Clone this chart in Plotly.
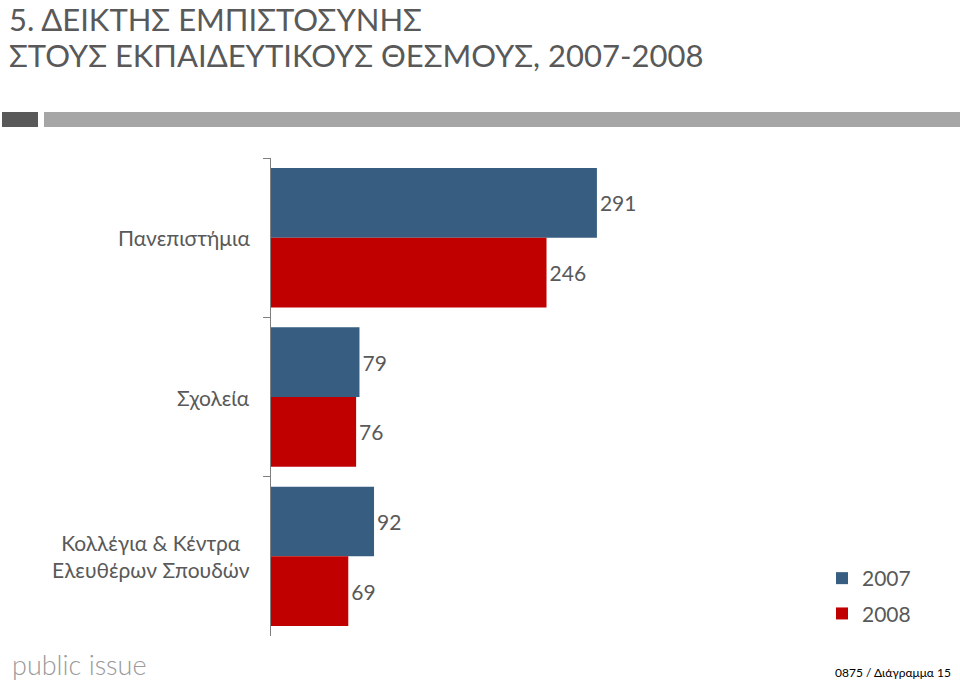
import plotly.graph_objects as go

categories = ["Πανεπιστήμια", "Σχολεία", "Κολλέγια & Κέντρα<br>Ελευθέρων Σπουδών"]
series_names = ["2007", "2008"]
values_2007 = [291, 79, 92]
values_2008 = [246, 76, 69]
colors = ["#375E80", "#C00000"]
title_lines = ["5. ΔΕΙΚΤΗΣ ΕΜΠΙΣΤΟΣΥΝΗΣ", "ΣΤΟΥΣ ΕΚΠΑΙΔΕΥΤΙΚΟΥΣ ΘΕΣΜΟΥΣ, 2007-2008"]

W, H = 960, 682
L, R, T, B = 271, 17, 158, 46
PW, PH = W - L - R, H - T - B

def px(x):
    return (x - L) / PW

def py(y):
    return (H - B - y) / PH

fig = go.Figure()
for name, vals, col in zip(series_names, [values_2007, values_2008], colors):
    fig.add_trace(go.Bar(
        y=categories, x=vals, name=name, orientation="h", legendgroup=name,
        marker=dict(color=col, line=dict(width=0)),
        text=[str(v) for v in vals], textposition="outside",
        textfont=dict(family="Lato", size=21, color="#595959"),
        cliponaxis=False,
    ))

annotations = []
for i, line in enumerate(title_lines):
    annotations.append(dict(
        text=line, xref="paper", yref="paper", x=px(8), y=py(19 + 36 * i),
        xanchor="left", yanchor="middle", showarrow=False, borderpad=0,
        font=dict(family="Lato", size=31, color="#595959")))
for cat in categories:
    annotations.append(dict(
        text=cat, xref="paper", yref="y", x=px(252), y=cat,
        xanchor="right", yanchor="middle", align="center", showarrow=False,
        font=dict(family="Lato", size=21, color="#595959")))
annotations += [
    dict(text="public issue", xref="paper", yref="paper", x=px(10), y=py(664),
         xanchor="left", yanchor="middle", showarrow=False,
         font=dict(family="Lato", size=27, color="#9A9A9A", weight=300)),
    dict(text="0875 / Διάγραμμα 15", xref="paper", yref="paper", x=px(953), y=py(672),
         xanchor="right", yanchor="middle", showarrow=False,
         font=dict(family="Lato", size=12, color="#000000")),
]

fig.update_layout(
    width=W, height=H,
    margin=dict(l=L, r=R, t=T, b=B),
    paper_bgcolor="white", plot_bgcolor="white",
    barmode="group", bargap=0.125, bargroupgap=0,
    font=dict(family="Lato", color="#595959"),
    xaxis=dict(range=[0, PW / 1.12], visible=False, showgrid=False, zeroline=False),
    yaxis=dict(
        autorange="reversed", showline=True, linecolor="#7F7F7F", linewidth=1,
        ticks="outside", ticklen=7, tickcolor="#7F7F7F", tickson="boundaries",
        showticklabels=False, showgrid=False, zeroline=False,
    ),
    legend=dict(
        x=px(822), y=py(558), xanchor="left", yanchor="top",
        font=dict(family="Lato", size=21, color="#595959"),
        itemwidth=30, traceorder="grouped", tracegroupgap=5,
        bgcolor="rgba(0,0,0,0)",
    ),
    showlegend=True,
    shapes=[
        dict(type="rect", xref="paper", yref="paper", x0=px(2), x1=px(38), y0=py(127), y1=py(112),
             fillcolor="#595959", line=dict(width=0)),
        dict(type="rect", xref="paper", yref="paper", x0=px(44), x1=px(960), y0=py(127), y1=py(112),
             fillcolor="#A6A6A6", line=dict(width=0)),
    ],
    annotations=annotations,
)

fig.write_html("out.html")
